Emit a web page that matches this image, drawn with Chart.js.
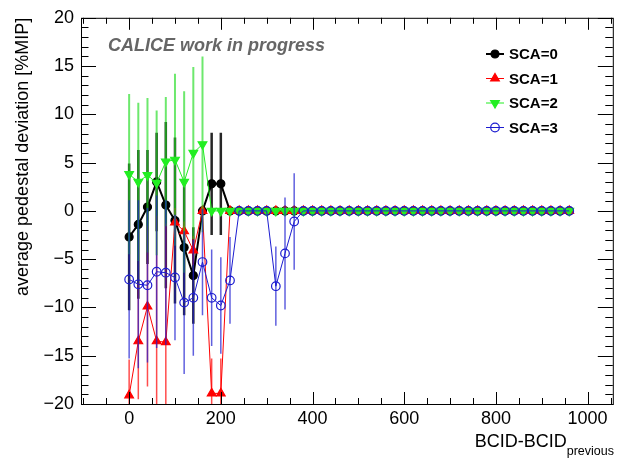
<!DOCTYPE html>
<html>
<head>
<meta charset="utf-8">
<script src="https://cdn.jsdelivr.net/npm/chart.js@4.4.0/dist/chart.umd.min.js"></script>
<style>
  body { margin: 0; background: #fff; }
  canvas { display: block; }
</style>
</head>
<body>
<canvas id="c" width="619" height="460"></canvas>
<script>
const bcid = [0, 20, 40, 60, 80, 100, 120, 140, 160, 180, 200, 220, 240, 260, 280, 300, 320, 340, 360, 380,
  400, 420, 440, 460, 480, 500, 520, 540, 560, 580, 600, 620, 640, 660, 680, 700, 720, 740, 760, 780,
  800, 820, 840, 860, 880, 900, 920, 940, 960]

// SCA=0
const sca0 = [-2.7, -1.4, 0.4, 3.0, 0.6, -1.0, -3.8, -6.7, 0, 2.8, 2.8, 0, 0, 0, 0, 0, 0, 0, 0, 0,
  0, 0, 0, 0, 0, 0, 0, 0, 0, 0, 0, 0, 0, 0, 0, 0, 0, 0, 0, 0, 0, 0, 0, 0, 0, 0, 0, 0, 0]
const sca0Err = [7.6, 7.7, 5.9, 5.1, 8.6, 8.6, 7.0, 5.0, 0, 5.3, 5.3, 0, 0, 0, 0, 0, 0, 0, 0, 0,
  0, 0, 0, 0, 0, 0, 0, 0, 0, 0, 0, 0, 0, 0, 0, 0, 0, 0, 0, 0, 0, 0, 0, 0, 0, 0, 0, 0, 0]
// SCA=1
const sca1 = [-19.1, -13.5, -9.9, -13.5, -13.6, -1.2, -2.1, -4.1, 0, -18.9, -18.9, 0, 0, 0, 0, 0, 0, 0, 0, 0,
  0, 0, 0, 0, 0, 0, 0, 0, 0, 0, 0, 0, 0, 0, 0, 0, 0, 0, 0, 0, 0, 0, 0, 0, 0, 0, 0, 0, 0]
const sca1Err = [3.7, 6.0, 8.3, 13.0, 12.3, 1.5, 1.0, 1.5, 0, 3.6, 3.6, 0, 0, 0, 0, 0, 0, 0, 0, 0,
  0, 0, 0, 0, 0, 0, 0, 0, 0, 0, 0, 0, 0, 0, 0, 0, 0, 0, 0, 0, 0, 0, 0, 0, 0, 0, 0, 0, 0]
// SCA=2
const sca2 = [3.8, 3.0, 3.7, 2.9, 5.1, 5.3, 3.0, 6.0, 6.9, 0, 0, 0, 0, 0, 0, 0, 0, 0, 0, 0,
  0, 0, 0, 0, 0, 0, 0, 0, 0, 0, 0, 0, 0, 0, 0, 0, 0, 0, 0, 0, 0, 0, 0, 0, 0, 0, 0, 0, 0]
const sca2Err = [8.3, 8.2, 8.0, 7.5, 6.7, 8.9, 9.4, 8.9, 9.1, 0, 0, 0, 0, 0, 0, 0, 0, 0, 0, 0,
  0, 0, 0, 0, 0, 0, 0, 0, 0, 0, 0, 0, 0, 0, 0, 0, 0, 0, 0, 0, 0, 0, 0, 0, 0, 0, 0, 0, 0]
// SCA=3
const sca3 = [-7.1, -7.6, -7.7, -6.3, -6.4, -6.9, -9.5, -9.0, -5.3, -9.0, -9.8, -7.2, 0, 0, 0, 0, -7.8, -4.4, -1.1, 0,
  0, 0, 0, 0, 0, 0, 0, 0, 0, 0, 0, 0, 0, 0, 0, 0, 0, 0, 0, 0, 0, 0, 0, 0, 0, 0, 0, 0, 0]
const sca3Err = [8.2, 8.7, 8.0, 7.9, 7.5, 6.5, 7.4, 6.0, 5.5, 5.0, 5.0, 4.5, 0, 0, 0, 0, 4.1, 5.8, 5.0, 0,
  0, 0, 0, 0, 0, 0, 0, 0, 0, 0, 0, 0, 0, 0, 0, 0, 0, 0, 0, 0, 0, 0, 0, 0, 0, 0, 0, 0, 0]

const xTicks = [0, 200, 400, 600, 800, 1000]
const yTicks = [-20, -15, -10, -5, 0, 5, 10, 15, 20]

const FONT = "'Liberation Sans', Arial, sans-serif"

const pts = (ys) => bcid.map((x, i) => ({x: x, y: ys[i]}))

const series = [
  {label: 'SCA=0', values: sca0, errs: sca0Err, color: '#000000', barColor: 'rgba(0,0,0,0.85)', lw: 2, bw: 2.5,
    style: 'circle', rot: 0, r: 4, fill: '#000000'},
  {label: 'SCA=1', values: sca1, errs: sca1Err, color: '#ff0000', barColor: 'rgba(255,0,0,0.7)', lw: 1, bw: 1.5,
    style: 'triangle', rot: 0, r: 5, fill: '#ff0000'},
  {label: 'SCA=2', values: sca2, errs: sca2Err, color: '#22ee22', barColor: 'rgba(30,220,30,0.65)', lw: 1, bw: 2,
    style: 'triangle', rot: 180, r: 5, fill: '#22ee22'},
  {label: 'SCA=3', values: sca3, errs: sca3Err, color: '#1c1cd0', barColor: 'rgba(28,28,208,0.7)', lw: 1, bw: 1.5,
    style: 'circle', rot: 0, r: 4.3, fill: 'rgba(0,0,0,0)'},
]

// error bars, drawn just before each dataset
const errorBars = {
  id: 'errorBars',
  beforeDatasetDraw(chart, args) {
    const s = series[args.index]
    const yScale = chart.scales.y
    const ctx = chart.ctx
    const area = chart.chartArea
    ctx.save()
    ctx.beginPath()
    ctx.rect(area.left, area.top, area.right - area.left, area.bottom - area.top)
    ctx.clip()
    ctx.strokeStyle = s.barColor
    ctx.lineWidth = s.bw
    args.meta.data.forEach((p, i) => {
      const e = s.errs[i]
      if (!e) return
      ctx.beginPath()
      ctx.moveTo(p.x, yScale.getPixelForValue(s.values[i] + e))
      ctx.lineTo(p.x, yScale.getPixelForValue(s.values[i] - e))
      ctx.stroke()
    })
    ctx.restore()
  }
}

// ROOT style frame with inward ticks, legend and text
const frame = {
  id: 'frame',
  afterDraw(chart) {
    const ctx = chart.ctx
    const a = chart.chartArea
    const xs = chart.scales.x, ys = chart.scales.y
    ctx.save()
    ctx.strokeStyle = '#000'
    ctx.lineWidth = 1
    ctx.strokeRect(a.left + 0.5, a.top + 0.5, a.right - a.left, a.bottom - a.top)
    ctx.beginPath()
    for (let v = -100; v <= 1050; v += 50) {
      const px = Math.round(xs.getPixelForValue(v)) + 0.5
      if (px < a.left || px > a.right) continue
      const len = v % 200 === 0 ? 12 : 6
      ctx.moveTo(px, a.bottom); ctx.lineTo(px, a.bottom - len)
      ctx.moveTo(px, a.top); ctx.lineTo(px, a.top + len)
    }
    for (let v = -20; v <= 20; v += 1) {
      const py = Math.round(ys.getPixelForValue(v)) + 0.5
      const len = v % 5 === 0 ? 15 : 7.5
      ctx.moveTo(a.left, py); ctx.lineTo(a.left + len, py)
      ctx.moveTo(a.right, py); ctx.lineTo(a.right - len, py)
    }
    ctx.stroke()

    // watermark
    ctx.fillStyle = '#666666'
    ctx.font = 'italic bold 18px ' + FONT
    ctx.textBaseline = 'alphabetic'
    ctx.textAlign = 'left'
    ctx.fillText('CALICE work in progress', 108, 51)

    // x axis title with subscript
    ctx.fillStyle = '#000'
    ctx.textAlign = 'right'
    ctx.font = '12.5px ' + FONT
    ctx.fillText('previous', 614, 455)
    const subW = ctx.measureText('previous').width
    ctx.font = '18px ' + FONT
    ctx.fillText('BCID-BCID', 614 - subW, 447)

    // legend
    series.forEach((s, i) => {
      const y = 54 + i * 24.5
      ctx.strokeStyle = s.color
      ctx.lineWidth = s.lw
      ctx.beginPath()
      ctx.moveTo(486, y); ctx.lineTo(504, y)
      ctx.stroke()
      ctx.fillStyle = s.fill
      ctx.lineWidth = 1.2
      Chart.helpers.drawPoint(ctx, {pointStyle: s.style, rotation: s.rot, radius: s.r, borderWidth: 1.2}, 495, y)
      ctx.fillStyle = '#000'
      ctx.font = 'bold 15px ' + FONT
      ctx.textAlign = 'left'
      ctx.textBaseline = 'middle'
      ctx.fillText(s.label, 509, y + 1)
    })
    ctx.restore()
  }
}

new Chart(document.getElementById('c'), {
  type: 'line',
  data: {
    datasets: series.map((s, i) => ({
      label: s.label,
      data: pts(s.values),
      borderColor: s.color,
      borderWidth: s.lw,
      backgroundColor: s.fill,
      pointStyle: s.style,
      pointRotation: s.rot,
      pointRadius: s.r,
      pointBorderWidth: 1.2,
      pointBorderColor: s.color,
      pointBackgroundColor: s.fill,
      tension: 0,
      clip: 0,
      order: 3 - i,
    }))
  },
  options: {
    responsive: false,
    animation: false,
    devicePixelRatio: 1,
    layout: {padding: {top: 17, right: 6, left: 0, bottom: 0}},
    plugins: {
      legend: {display: false},
      tooltip: {enabled: false},
    },
    scales: {
      x: {
        type: 'linear',
        min: -105,
        max: 1055,
        afterFit: (s) => { s.height = 56 },
        afterBuildTicks: (s) => { s.ticks = xTicks.map(v => ({value: v})) },
        grid: {display: false, drawTicks: false},
        border: {display: false},
        ticks: {
          color: '#000', font: {family: FONT, size: 18}, padding: 4, maxRotation: 0,
          callback: (v) => String(v),
        },
      },
      y: {
        type: 'linear',
        min: -20,
        max: 20,
        afterFit: (s) => { s.width = 81 },
        afterBuildTicks: (s) => { s.ticks = yTicks.map(v => ({value: v})) },
        grid: {display: false, drawTicks: false},
        border: {display: false},
        ticks: {
          color: '#000', font: {family: FONT, size: 18}, padding: 7,
          callback: (v) => String(v).replace('-', '\u2212'),
        },
        title: {
          display: true,
          text: 'average pedestal deviation [%MIP]',
          align: 'end',
          color: '#000',
          font: {family: FONT, size: 18},
          padding: {top: 12, bottom: 0},
        },
      },
    },
  },
  plugins: [errorBars, frame],
})
</script>
</body>
</html>
